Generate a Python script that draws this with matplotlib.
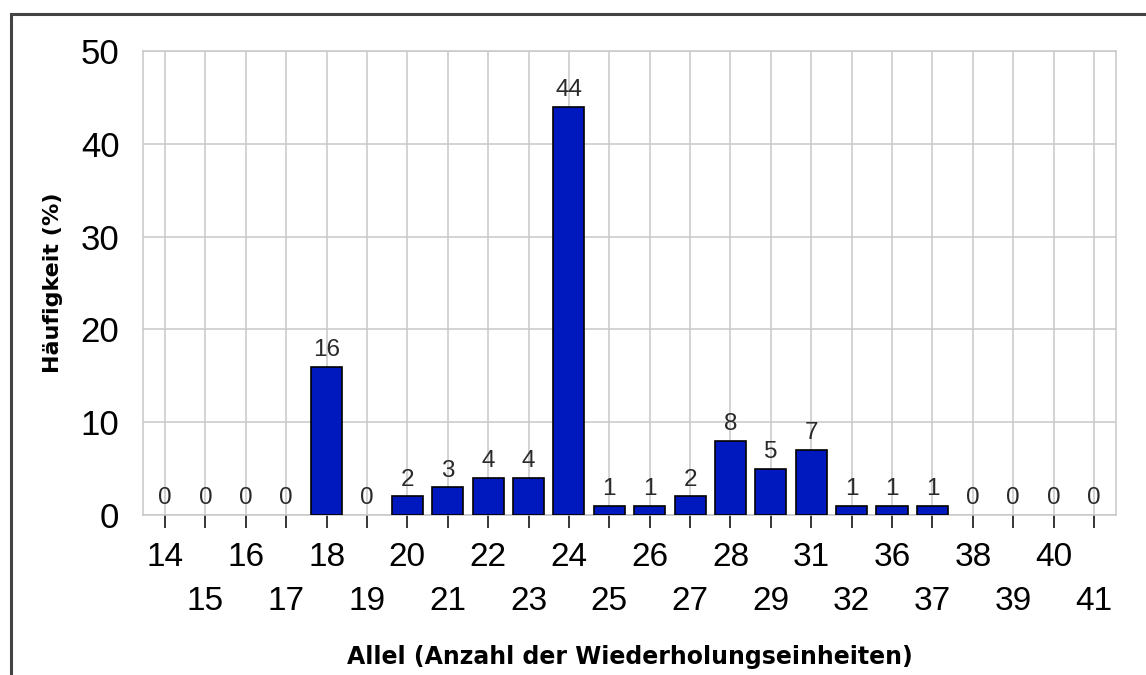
import matplotlib
matplotlib.use("Agg")
import matplotlib.pyplot as plt
from matplotlib.patches import Rectangle

plt.rcParams['font.family'] = ['Liberation Sans', 'DejaVu Sans']

alleles = ["14", "15", "16", "17", "18", "19", "20", "21", "22", "23", "24", "25",
           "26", "27", "28", "29", "31", "32", "36", "37", "38", "39", "40", "41"]
freq = [0, 0, 0, 0, 16, 0, 2, 3, 4, 4, 44, 1, 1, 2, 8, 5, 7, 1, 1, 1, 0, 0, 0, 0]
yticks = [0, 10, 20, 30, 40, 50]

W, H = 1146, 675
fig = plt.figure(figsize=(W / 100, H / 100), dpi=100)
fig.patch.set_facecolor('white')

# outer frame (extends beyond right/bottom edge)
fig.patches.append(Rectangle((10.5 / W, -0.1), 1.2, (H - 14.5) / H + 0.1,
                             transform=fig.transFigure, fill=False,
                             edgecolor='#444444', linewidth=2.2))

ax = fig.add_axes([143 / W, (H - 515) / H, (1116 - 143) / W, (515 - 51) / H])
x = list(range(len(alleles)))
edges = ['black' if v > 0 else 'none' for v in freq]
ax.bar(x, freq, width=0.77, color='#0019BF', edgecolor=edges, linewidth=1.2, zorder=3)

for xi, v in zip(x, freq):
    ax.annotate(str(v), (xi, v), xytext=(0, 4), textcoords='offset points',
                ha='center', va='bottom', fontsize=17.5, color='#2a2a2a', zorder=4)

ax.set_xlim(-0.545, len(alleles) - 1 + 0.545)
ax.set_ylim(0, 50)
ax.set_yticks(yticks)
ax.set_yticklabels([str(t) for t in yticks])
ax.set_xticks(x)
ax.set_xticklabels([a if i % 2 == 0 else "\n" + a for i, a in enumerate(alleles)],
                   linespacing=1.55)

ax.grid(True, color='#c8c8c8', linewidth=1.1, zorder=0)
ax.set_axisbelow(True)
for s in ax.spines.values():
    s.set_color('#c8c8c8')
    s.set_linewidth(1.1)

ax.tick_params(axis='x', length=9.5, width=1.1, color='black', pad=10,
               labelsize=24, direction='out')
ax.tick_params(axis='y', length=0, pad=17, labelsize=25)

ax.set_xlabel("Allel (Anzahl der Wiederholungseinheiten)", fontsize=17,
              fontweight='bold', family=['DejaVu Sans'], labelpad=20)
ax.set_ylabel("Häufigkeit (%)", fontsize=16, fontweight='bold',
              family=['DejaVu Sans'], labelpad=13)

fig.savefig("out.png", dpi=100)
